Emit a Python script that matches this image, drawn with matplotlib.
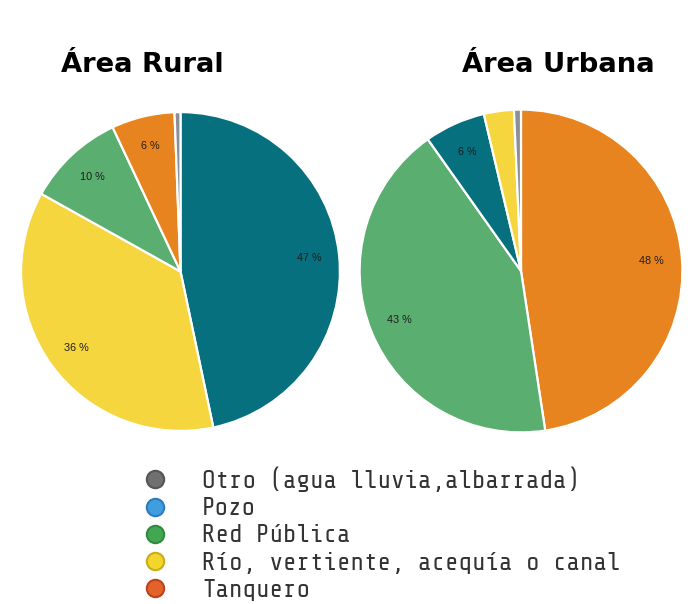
import matplotlib
matplotlib.use("Agg")
import matplotlib.pyplot as plt
from matplotlib.lines import Line2D

# ---- data ----
categories = ["Otro (agua lluvia,albarrada)", "Pozo", "Red Pública",
              "Río, vertiente, acequía o canal", "Tanquero"]
pie_colors = {"Otro (agua lluvia,albarrada)": "#8c8f99", "Pozo": "#07707f",
              "Red Pública": "#5aae6f", "Río, vertiente, acequía o canal": "#f6d63e",
              "Tanquero": "#e8841f"}
legend_colors = ["#707070", "#3f9de0", "#43a652", "#f3d62c", "#e4622a"]
legend_edges = ["#555555", "#2a7cc0", "#2f8a3e", "#c9ad12", "#b8441a"]

rural_order = ["Pozo", "Río, vertiente, acequía o canal", "Red Pública", "Tanquero",
               "Otro (agua lluvia,albarrada)"]
rural_values = [46.7, 36.4, 9.9, 6.4, 0.6]

urban_order = ["Tanquero", "Red Pública", "Pozo", "Río, vertiente, acequía o canal",
               "Otro (agua lluvia,albarrada)"]
urban_values = [47.6, 42.6, 6.1, 3.0, 0.7]

titles = ["Área Rural", "Área Urbana"]

W, H = 699, 604
fig = plt.figure(figsize=(W / 100, H / 100), dpi=100)
fig.patch.set_facecolor("white")


def make_ax(cx, cy, r):
    return fig.add_axes([(cx - r) / W, (H - cy - r) / H, 2 * r / W, 2 * r / H])


def pct(p):
    return f"{p:.0f} %" if p >= 4 else ""


for (cx, cy, r), order, vals in [((180.5, 271.5, 161), rural_order, rural_values),
                                 ((521, 271, 163), urban_order, urban_values)]:
    ax = make_ax(cx, cy, r)
    ax.pie(vals, colors=[pie_colors[c] for c in order], startangle=90, counterclock=False,
           autopct=pct, pctdistance=0.81, radius=1,
           wedgeprops=dict(edgecolor="white", linewidth=1.6),
           textprops=dict(fontsize=7.8, color="#1e1e1e", family="Liberation Sans"))
    ax.set_xlim(-1.01, 1.01)
    ax.set_ylim(-1.01, 1.01)
    ax.set_aspect("auto")
    ax.axis("off")

# titles
fig.text(142.7 / W, 1 - 71.7 / H, titles[0], ha="center", va="baseline", fontsize=19.7,
         fontweight="bold", family="DejaVu Sans", color="black")
fig.text(558 / W, 1 - 71.7 / H, titles[1], ha="center", va="baseline", fontsize=19.7,
         fontweight="bold", family="DejaVu Sans", color="black")

# legend
handles = [Line2D([], [], linestyle="none", marker="o", markersize=12.5,
                  markerfacecolor=fc, markeredgecolor=ec, markeredgewidth=1.5)
           for fc, ec in zip(legend_colors, legend_edges)]
leg = fig.legend(handles, categories, loc="upper left",
                 bbox_to_anchor=(140 / W, 1 - 466.5 / H), frameon=False,
                 prop=dict(family=["Share Tech Mono", "DejaVu Sans Mono"], size=18),
                 labelspacing=0.21, handletextpad=1.28, handlelength=1.2, borderpad=0,
                 borderaxespad=0)
for t in leg.get_texts():
    t.set_color("#333333")

fig.savefig("out.png", dpi=100, facecolor="white")
